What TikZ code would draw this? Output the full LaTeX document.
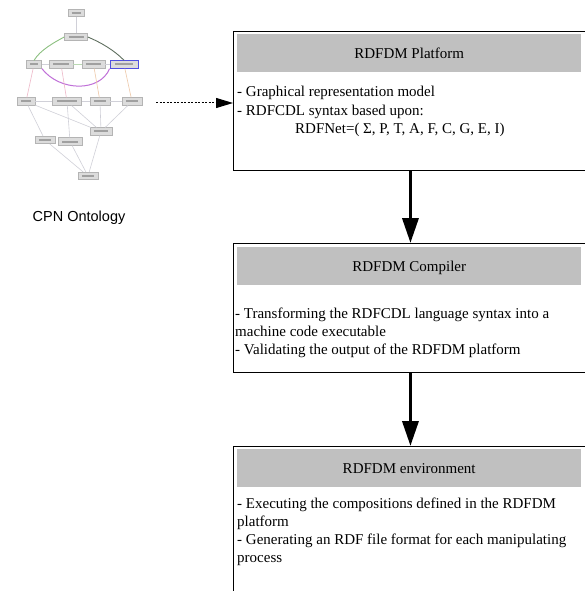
\documentclass[tikz,border=0pt]{standalone}
\usepackage{fontspec}
\setmainfont{Liberation Serif}
\newfontfamily\arialfont{Liberation Sans}
\usetikzlibrary{arrows.meta}
\definecolor{hdrgray}{HTML}{C0C0C0}
\definecolor{gfill}{HTML}{DCDCDC}
\definecolor{gline}{HTML}{B4B4B4}
\definecolor{gtext}{HTML}{A0A0A0}
\definecolor{gblue}{HTML}{5050E0}
\definecolor{gedge}{HTML}{D0D0D8}
\definecolor{gpink}{HTML}{EEB8C8}
\definecolor{gorange}{HTML}{EEC8A8}
\definecolor{ggreen}{HTML}{8CC080}
\definecolor{gdark}{HTML}{607060}
\definecolor{gpurple}{HTML}{C070D8}
\newcommand{\gbar}[1]{\textcolor{gtext}{\rule[-1pt]{#1}{2pt}}}
\tikzset{
  mainbox/.style={draw=black, line width=0.9pt, anchor=north west, inner sep=0pt},
  hdrbox/.style={fill=hdrgray, anchor=north west, inner sep=0pt, text height=9.9pt, text depth=0pt},
  bodyline/.style={anchor=base west, inner sep=0pt},
  bigarrow/.style={line width=3.5pt, -{Triangle[length=25pt,width=16pt]}},
  dotarrow/.style={line width=1pt, dash pattern=on 2pt off 1.5pt, -{Triangle[length=17pt,width=10pt]}},
  gnode/.style={draw=gline, fill=gfill, line width=0.6pt, minimum height=7.5pt, inner sep=0pt},
  gedgeline/.style={draw=gedge, line width=0.6pt},
}
\begin{document}
\begin{tikzpicture}[x=1pt, y=-1pt, font=\fontsize{15pt}{18pt}\selectfont]
\useasboundingbox (0,0) rectangle (585,591);
\clip (0,0) rectangle (585,591);
\fill[white] (0,0) rectangle (585,591);

% ---------------- CPN ontology graph ----------------
\node[gnode, minimum width=16pt] (g0) at (76,13) {\gbar{9pt}};
\node[gnode, minimum width=23pt] (g1) at (76,37) {\gbar{15pt}};
\node[gnode, minimum width=15pt] (g3a) at (34,64.5) {\gbar{8pt}};
\node[gnode, minimum width=24pt] (g3b) at (61,64.5) {\gbar{16pt}};
\node[gnode, minimum width=23pt] (g3c) at (93.5,64.5) {\gbar{15pt}};
\node[gnode, minimum width=28pt, draw=gblue, line width=0.9pt] (g3d) at (124,64.5) {\gbar{18pt}};
\node[gnode, minimum width=18pt] (g4a) at (26,101.5) {\gbar{10pt}};
\node[gnode, minimum width=29pt] (g4b) at (67,101.5) {\gbar{20pt}};
\node[gnode, minimum width=20pt] (g4c) at (100,101.5) {\gbar{12pt}};
\node[gnode, minimum width=20pt] (g4d) at (132,101.5) {\gbar{12pt}};
\node[gnode, minimum width=22pt] (g5c) at (101,131.5) {\gbar{14pt}};
\node[gnode, minimum width=20pt] (g5a) at (45,140) {\gbar{12pt}};
\node[gnode, minimum width=24pt] (g5b) at (70,141.5) {\gbar{16pt}};
\node[gnode, minimum width=20pt] (g6) at (88,176) {\gbar{12pt}};

\draw[gedgeline] (g0) -- (g1);
\draw[ggreen, line width=0.9pt] (g1.west) .. controls (55,42) and (40,50) .. (g3a.north);
\draw[gdark, line width=0.9pt] (g1.east) .. controls (100,42) and (114,50) .. (g3d.north);
\draw[gpurple, line width=1pt] (g3a.south east) .. controls (60,92) and (100,92) .. (g3d.south west);
\draw[gedgeline] (g3a) -- (g3b);
\draw[ggreen!60, line width=0.6pt] (g3b) -- (g3c);
\draw[gedgeline] (g3c) -- (g3d);
\draw[gpink, line width=0.6pt] (g3a) -- (g4a);
\draw[gpink, line width=0.6pt] (g3b) -- (g4b);
\draw[gorange, line width=0.6pt] (g3c) -- (g4c);
\draw[gorange, line width=0.6pt] (g3d) -- (g4d);
\draw[gedgeline] (g4a) -- (g4b);
\draw[gedgeline] (g4b) -- (g4c);
\draw[gedgeline] (g4c) -- (g4d);
\draw[gedgeline] (g4a) -- (g5c);
\draw[gedgeline] (g4b) -- (g5c);
\draw[gedgeline] (g4c) -- (g5c);
\draw[gedgeline] (g4d) -- (g5c);
\draw[gedgeline] (g4b) -- (g5b);
\draw[gedgeline] (g4a) -- (g5a);
\draw[gedgeline] (g5a) -- (g6);
\draw[gedgeline] (g5b) -- (g6);
\draw[gedgeline] (g5c) -- (g6);

\node[font=\arialfont\fontsize{14.5pt}{18pt}\selectfont, anchor=center] (cpn) at (79,218) {CPN Ontology};

% ---------------- main boxes ----------------
\node[mainbox, minimum width=360pt, minimum height=139pt] (box1) at (233,31) {};
\node[hdrbox, minimum width=344pt, minimum height=38pt] (h1) at (237,34) {RDFDM Platform};
\node[bodyline] (b1a) at (237,97) {- Graphical representation model};
\node[bodyline] (b1b) at (237,115) {- RDFCDL syntax based upon:};
\node[bodyline] (b1c) at (295,133) {RDFNet=( Σ, P, T, A, F, C, G, E, I)};

\node[mainbox, minimum width=360pt, minimum height=129pt] (box2) at (233,243) {};
\node[hdrbox, minimum width=344pt, minimum height=38pt] (h2) at (237,247) {RDFDM Compiler};
\node[bodyline] (b2a) at (235,318) {- Transforming the RDFCDL language syntax into a};
\node[bodyline] (b2b) at (235,336) {machine code executable};
\node[bodyline] (b2c) at (235,354) {- Validating the output of the RDFDM platform};

\node[mainbox, minimum width=360pt, minimum height=160pt] (box3) at (233,446) {};
\node[hdrbox, minimum width=344pt, minimum height=38pt] (h3) at (237,449) {RDFDM environment};
\node[bodyline] (b3a) at (237,508) {- Executing the compositions defined in the RDFDM};
\node[bodyline] (b3b) at (237,526) {platform};
\node[bodyline] (b3c) at (237,544) {- Generating an RDF file format for each manipulating};
\node[bodyline] (b3d) at (237,562) {process};

% ---------------- connectors ----------------
\draw[bigarrow] ([xshift=-3pt]box1.south) -- ([xshift=-3pt]box2.north);
\draw[bigarrow] ([xshift=-3pt]box2.south) -- ([xshift=-3pt]box3.north);
\coordinate (dstart) at (156,103);
\draw[dotarrow] (dstart) -- (dstart -| box1.west);
\end{tikzpicture}
\end{document}
